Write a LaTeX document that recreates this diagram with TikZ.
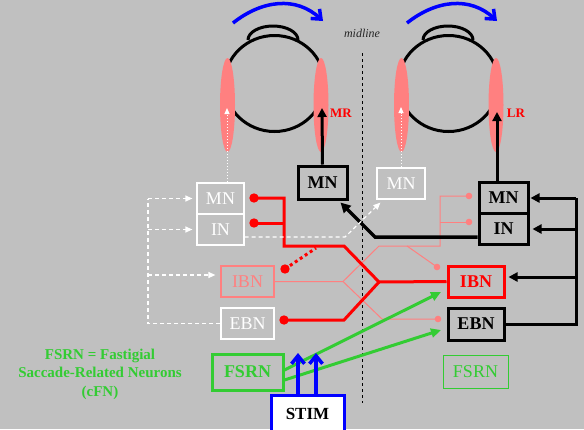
\documentclass[tikz,border=0pt]{standalone}
\usepackage{fontspec}
\setmainfont{Liberation Serif}
\usetikzlibrary{arrows.meta,shapes.geometric}
\definecolor{bg}{HTML}{C0C0C0}
\definecolor{pinkc}{HTML}{FF8080}
\definecolor{grn}{HTML}{33CC33}
\begin{document}
\begin{tikzpicture}[x=1pt,y=-1pt,
  boxfont/.style={font=\fontsize{18}{20}\selectfont},
  wbox/.style={boxfont, draw=white, line width=1.2pt, text=white, minimum height=31pt, inner sep=0pt},
  pbox/.style={boxfont, draw=pinkc, line width=1.2pt, text=pinkc, minimum height=31pt, inner sep=0pt},
  bbox/.style={boxfont, draw=black, line width=3pt, text=black, minimum height=31pt, inner sep=0pt, font=\fontsize{18}{20}\selectfont\bfseries},
  rbox/.style={boxfont, draw=red, line width=3pt, text=red, minimum height=31pt, inner sep=0pt, font=\fontsize{18}{20}\selectfont\bfseries},
  muscle/.style={ellipse, fill=pinkc, inner sep=0pt, minimum width=15pt, minimum height=94pt},
  eyeline/.style={line width=3pt},
  blkarrow/.style={line width=3pt, -{Triangle[length=9pt,width=9pt]}},
  wdotarrow/.style={white, line width=1pt, dotted, -{Triangle[length=6pt,width=5pt]}},
  wdash/.style={white, line width=1.2pt, dash pattern=on 4pt off 3pt},
  wdasharrow/.style={wdash, -{Triangle[length=7pt,width=6pt]}},
  redline/.style={red, line width=3pt},
  pinkline/.style={pinkc, line width=1pt},
  grnarrow/.style={grn, line width=3pt, -{Triangle[length=10pt,width=9pt]}},
  bluearrow/.style={blue, line width=3.5pt, -{Straight Barb[length=8pt,width=13pt]}}
]
\fill[bg] (0,0) rectangle (584,429);
\useasboundingbox (0,0) rectangle (584,429);

% midline
\draw[line width=0.8pt, dash pattern=on 3pt off 3pt] (362,53) -- (362,403);
\node[font=\fontsize{12}{14}\selectfont\itshape, text=black!85] (mid) at (362,33) {midline};

% eyes
\draw[eyeline] (274.5,83.5) ellipse [x radius=50pt, y radius=48pt];
\draw[eyeline] (248,40) arc[start angle=180, end angle=0, x radius=25pt, y radius=14pt];
\draw[eyeline] (448.5,83.5) ellipse [x radius=50pt, y radius=48pt];
\draw[eyeline] (423,40) arc[start angle=180, end angle=0, x radius=25pt, y radius=14pt];

\node[muscle] (lL) at (227.5,105) {};
\node[muscle] (lR) at (321,105) {};
\node[muscle] (rL) at (401.5,105) {};
\node[muscle] (rR) at (496,105) {};

\node[font=\fontsize{13}{15}\selectfont\bfseries, text=red] (mr) at (341,113) {MR};
\node[font=\fontsize{13}{15}\selectfont\bfseries, text=red] (lr) at (516,113) {LR};

% blue rotation arrows
\draw[bluearrow] (233,23) .. controls (262,0) and (296,-4) .. (323,21);
\draw[bluearrow] (407,23) .. controls (436,0) and (470,-4) .. (497,21);

% boxes
\node[wbox, minimum width=47pt] (lMN) at (220.5,198.5) {MN};
\node[wbox, minimum width=47pt] (lIN) at (220.5,229.5) {IN};
\node[pbox, minimum width=53pt] (lIBN) at (247.5,281.5) {IBN};
\node[wbox, minimum width=53pt] (lEBN) at (247.5,323.5) {EBN};
\node[bbox, minimum width=49pt, minimum height=33pt] (cMN) at (322.5,182.5) {MN};
\node[wbox, minimum width=48pt] (cMNw) at (401,183.5) {MN};
\node[bbox, minimum width=49pt] (rMN) at (503.5,198) {MN};
\node[bbox, minimum width=49pt] (rIN) at (503.5,229) {IN};
\node[rbox, minimum width=56pt] (rIBN) at (476,281.5) {IBN};
\node[bbox, minimum width=56pt, minimum height=32pt] (rEBN) at (476,324) {EBN};
\node[boxfont, draw=grn, line width=3pt, text=grn, font=\fontsize{18}{20}\selectfont\bfseries, minimum width=71pt, minimum height=36pt, inner sep=0pt] (lFSRN) at (247.5,372) {FSRN};
\node[boxfont, draw=grn, line width=1pt, text=grn, minimum width=65pt, minimum height=33pt, inner sep=0pt] (rFSRN) at (475.5,371.5) {FSRN};
\node[draw=blue, line width=3pt, fill=white, minimum width=73pt, minimum height=38pt, inner sep=0pt, font=\fontsize{17}{19}\selectfont\bfseries] (stim) at (307.5,414) {STIM};

\node[text=grn, align=center, font=\fontsize{15}{18.5}\selectfont\bfseries] (legend) at (100,374) {FSRN = Fastigial\\Saccade-Related Neurons\\(cFN)};

% motor neuron to muscle
\coordinate (mrTip) at (322,108);
\coordinate (lrTip) at (497,112);
\coordinate (lLtip) at (227,108);
\coordinate (rLtip) at (401,107);
\draw[blkarrow] (cMN.north) -- (mrTip);
\draw[blkarrow] ([xshift=-6.5pt]rMN.north) -- (lrTip);
\draw[wdotarrow] ([xshift=6.5pt]lMN.north) -- (lLtip);
\draw[wdotarrow] (cMNw.north) -- (rLtip);

% pink (inactive) inhibitory projections
\coordinate (pJ) at (343,281.5);
\coordinate (pA) at (379,246);
\coordinate (pV) at (440,246);
\coordinate (pd1) at (469,196);
\coordinate (pd2) at (469,222);
\coordinate (pd3) at (437,267);
\coordinate (pd4) at (438,319);
\draw[pinkline] (lIBN.east) -- (pJ) -- (pA) -- (pV) -- (440,196) -- (pd1);
\draw[pinkline] (440,222) -- (pd2);
\draw[pinkline] (407,246) -- (pd3);
\draw[pinkline] (pJ) -- (382,319) -- (pd4);
\foreach \p in {pd1,pd2,pd3,pd4} \fill[pinkc] (\p) circle (3.3pt);

% red inhibitory projections of the active IBN
\coordinate (dMN) at (254,198);
\coordinate (dIN) at (254,223);
\coordinate (dEBN) at (284,320);
\coordinate (dIBN) at (285,269);
\coordinate (rJ) at (379,282);
\draw[redline] (dMN) -- (284,198) -- (284,246) -- (344,246) -- (rJ) -- (rIBN.west);
\draw[redline] (dIN) -- (284,223);
\draw[redline] (dEBN) -- (344,320) -- (rJ);
\draw[red, line width=3pt, dash pattern=on 3pt off 3pt] (dIBN) -- (316,248);
\foreach \p in {dMN,dIN,dEBN,dIBN} \fill[red] (\p) circle (4.7pt);

% abducens interneuron to contralateral MN
\draw[line width=3.5pt, -{Triangle[length=10pt,width=10pt]}] ([yshift=-8pt]rIN.west) -- (375,237) -- ([xshift=-8pt,yshift=-2pt]cMN.south east);
\draw[wdasharrow] ([yshift=-7.5pt]lIN.east) -- (345,237) -- ([xshift=4pt,yshift=-3pt]cMNw.south west);

% left (inactive) EBN feedback
\draw[wdash] (lEBN.west) -- (148,323.5) -- (148,198.5);
\draw[wdasharrow, shorten >=4pt] (148,198.5) -- (lMN.west);
\draw[wdasharrow, shorten >=4pt] (148,229.5) -- (lIN.west);
\draw[wdasharrow, shorten >=5pt] (148,275) -- ([yshift=6.5pt]lIBN.west);

% right EBN feedback
\draw[line width=3pt] (rEBN.east) -- (576,324) -- (576,198);
\draw[blkarrow, shorten >=1pt] (576,198) -- (rMN.east);
\draw[blkarrow, shorten >=3pt] (576,229) -- (rIN.east);
\draw[blkarrow, shorten >=3pt] (576,277) -- ([yshift=4.5pt]rIBN.east);

% FSRN projections
\coordinate (g1) at (441,292);
\coordinate (g2) at (441,330);
\draw[grnarrow] ([yshift=2pt]lFSRN.east) -- (g1);
\draw[grnarrow] ([yshift=-8pt]lFSRN.east) -- (g2);

% stimulation
\coordinate (s1) at (298,353);
\coordinate (s2) at (316,353);
\draw[bluearrow] ([xshift=-9.5pt]stim.north) -- (s1);
\draw[bluearrow] ([xshift=8.5pt]stim.north) -- (s2);
\end{tikzpicture}
\end{document}
